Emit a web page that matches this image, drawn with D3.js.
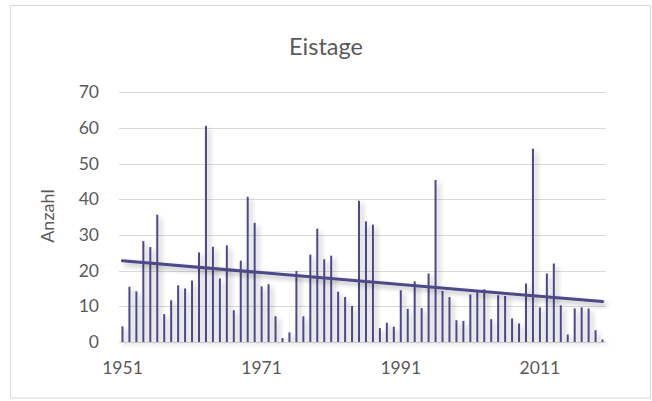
<!DOCTYPE html>
<html>
<head>
<meta charset="utf-8">
<script src="https://cdn.jsdelivr.net/npm/d3@7"></script>
<style>
  html, body { margin: 0; padding: 0; background: #fff; }
  svg { display: block; font-family: Lato, "Noto Sans", sans-serif; }
</style>
</head>
<body>
<svg id="chart" width="652" height="401"></svg>
<script>
// Ice days per winter year, 1951–2020
const years = d3.range(1951, 2021);
const eistage = [
  4.4, 15.5, 14.2, 28.3, 26.6, 35.7, 7.8, 11.7, 15.9, 15.0,
  17.2, 25.1, 60.6, 26.7, 17.8, 27.1, 8.9, 22.8, 40.7, 33.4,
  15.6, 16.2, 7.2, 1.1, 2.7, 19.9, 7.2, 24.5, 31.8, 23.2,
  24.2, 14.1, 12.6, 10.1, 39.6, 33.8, 32.9, 3.9, 5.4, 4.3,
  14.5, 9.3, 17.0, 9.5, 19.2, 45.4, 14.3, 12.6, 6.1, 5.9,
  13.3, 14.2, 14.8, 6.4, 13.1, 12.9, 6.6, 5.2, 16.4, 54.2,
  9.7, 19.2, 22.0, 10.3, 2.1, 9.4, 9.7, 9.4, 3.3, 0.7
];
const yTicks = [0, 10, 20, 30, 40, 50, 60, 70];
const xTickLabels = [1951, 1971, 1991, 2011];

const svg = d3.select("#chart");
const color = "#4d4889";
const textColor = "#595959";

// Outer chart frame
svg.append("rect")
  .attr("x", 10.5).attr("y", 5.5)
  .attr("width", 640).attr("height", 392.5)
  .attr("fill", "#fff").attr("stroke", "#d9d9d9").attr("stroke-width", 1);

// Soft shadow for bars and trend line
const defs = svg.append("defs");
const f = defs.append("filter").attr("id", "shadow")
  .attr("x", "-200%").attr("y", "-20%").attr("width", "500%").attr("height", "140%");
f.append("feGaussianBlur").attr("in", "SourceAlpha").attr("stdDeviation", 2.5).attr("result", "b");
f.append("feOffset").attr("in", "b").attr("dx", 3).attr("dy", 3).attr("result", "o");
f.append("feComponentTransfer").attr("in", "o").attr("result", "s")
  .append("feFuncA").attr("type", "linear").attr("slope", 0.3);
const m = f.append("feMerge");
m.append("feMergeNode").attr("in", "s");
m.append("feMergeNode").attr("in", "SourceGraphic");

const plot = { left: 119, right: 606, top: 92.3, bottom: 342 };

const x = d3.scaleBand().domain(years).range([plot.left, plot.right]).padding(0);
const y = d3.scaleLinear().domain([0, 70]).range([plot.bottom, plot.top]);

// Gridlines
svg.append("g").selectAll("line").data(yTicks).join("line")
  .attr("x1", plot.left).attr("x2", plot.right)
  .attr("y1", d => Math.round(y(d)) + 0.5).attr("y2", d => Math.round(y(d)) + 0.5)
  .attr("stroke", "#d9d9d9").attr("stroke-width", 1.2);

// Y axis labels
const yAxis = d3.axisLeft(y).tickValues(yTicks).tickSize(0).tickPadding(0);
svg.append("g").attr("transform", `translate(${plot.left - 20},0)`).call(yAxis)
  .call(g => g.select(".domain").remove())
  .call(g => g.selectAll("text")
    .attr("fill", textColor).attr("font-size", 17.5).attr("font-family", "Lato, sans-serif"));

// X axis labels
const xAxis = d3.axisBottom(x).tickValues(xTickLabels).tickSize(0).tickPadding(0);
svg.append("g").attr("transform", `translate(0,${plot.bottom + 20})`).call(xAxis)
  .call(g => g.select(".domain").remove())
  .call(g => g.selectAll("text")
    .attr("fill", textColor).attr("font-size", 17.5).attr("font-family", "Lato, sans-serif"));

// Bars
svg.append("g").attr("filter", "url(#shadow)")
  .selectAll("rect").data(years).join("rect")
  .attr("x", (d) => x(d) + x.bandwidth() / 2 - 1)
  .attr("width", 2)
  .attr("y", (d, i) => y(eistage[i]))
  .attr("height", (d, i) => y(0) - y(eistage[i]))
  .attr("fill", color);

// Linear trend (least squares)
const n = years.length;
const xm = d3.mean(years), ym = d3.mean(eistage);
let sxy = 0, sxx = 0;
years.forEach((yr, i) => { sxy += (yr - xm) * (eistage[i] - ym); sxx += (yr - xm) ** 2; });
const slope = sxy / sxx, icpt = ym - slope * xm;
const trend = [years[0], years[n - 1]].map(yr => [x(yr) + x.bandwidth() / 2, y(icpt + slope * yr)]);
svg.append("path")
  .attr("d", d3.line()(trend))
  .attr("stroke", color).attr("stroke-width", 3).attr("fill", "none")
  .attr("stroke-linecap", "round")
  .attr("filter", "url(#shadow)");

// Title
svg.append("text")
  .attr("x", 326).attr("y", 55)
  .attr("text-anchor", "middle")
  .attr("fill", textColor).attr("font-size", 23.5)
  .text("Eistage");

// Y axis title
svg.append("text")
  .attr("transform", `translate(${54},${216}) rotate(-90)`)
  .attr("text-anchor", "middle")
  .attr("fill", textColor).attr("font-size", 18)
  .text("Anzahl");
</script>
</body>
</html>
